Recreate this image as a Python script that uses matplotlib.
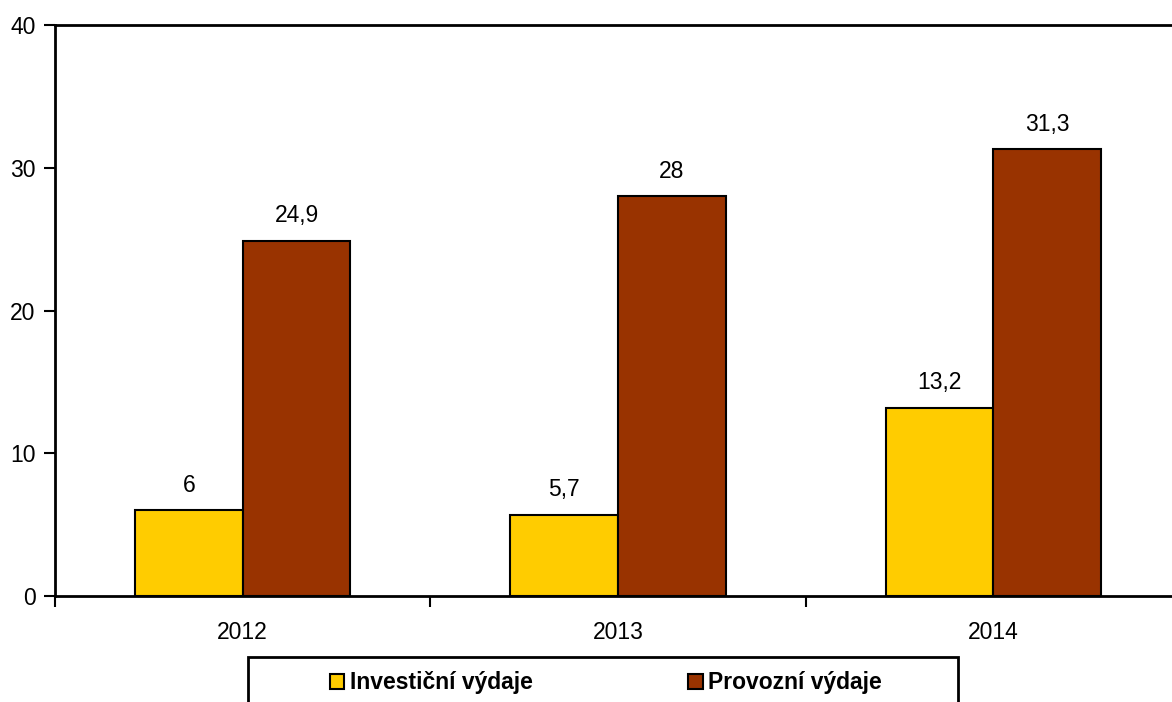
import numpy as np
import matplotlib.pyplot as plt
from matplotlib.patches import Rectangle

# Data
years = ["2012", "2013", "2014"]
investicni = [6, 5.7, 13.2]
provozni = [24.9, 28, 31.3]
series_names = ["Investiční výdaje", "Provozní výdaje"]

YELLOW = "#FFCC00"
BROWN = "#993300"

plt.rcParams['font.family'] = ['Liberation Sans', 'DejaVu Sans']

fig = plt.figure(figsize=(11.72, 7.02), dpi=100)
ax = fig.add_axes([55 / 1172, 106 / 702, 1126 / 1172, 571 / 702])

x = np.arange(len(years))
width = 0.287

bars1 = ax.bar(x - width / 2, investicni, width, color=YELLOW,
               edgecolor="black", linewidth=1.5, label=series_names[0])
bars2 = ax.bar(x + width / 2, provozni, width, color=BROWN,
               edgecolor="black", linewidth=1.5, label=series_names[1])


def fmt(v):
    """Czech style decimal comma"""
    s = f"{v:g}"
    return s.replace(".", ",")


for bars, vals in ((bars1, investicni), (bars2, provozni)):
    for b, v in zip(bars, vals):
        ax.annotate(fmt(v), (b.get_x() + b.get_width() / 2, v),
                    xytext=(0, 9.5), textcoords="offset points",
                    ha="center", va="bottom", fontsize=16.5)

ax.set_xlim(-0.5, len(years) - 0.5)
ax.set_ylim(0, 40)
ax.set_yticks([0, 10, 20, 30, 40])
ax.set_xticks(x)
ax.set_xticklabels(years)
ax.set_xticks(np.arange(-0.5, len(years)), minor=True)
ax.tick_params(axis="x", which="major", length=0, pad=18, labelsize=16.5)
ax.tick_params(axis="x", which="minor", length=8, width=1.5, direction="out")
ax.tick_params(axis="y", length=8, width=1.5, direction="out", pad=6,
               labelsize=16.5)

for side in ("left", "bottom", "top"):
    ax.spines[side].set_linewidth(2)
ax.spines["right"].set_visible(False)

# Legend box, cut off at the bottom edge like the original
fig.patches.append(Rectangle((248 / 1172, -0.05), 710 / 1172,
                             0.05 + 45 / 702, transform=fig.transFigure,
                             facecolor="white", edgecolor="black",
                             linewidth=2))
fig.legend(handles=[bars1, bars2], labels=series_names, loc="center",
           bbox_to_anchor=(606 / 1172, 1 - 683 / 702), ncol=2,
           frameon=False, prop={"weight": "bold", "size": 16.5},
           handlelength=0.62, handleheight=0.62, handletextpad=0.25,
           columnspacing=6.8)

fig.savefig("out.png", dpi=100)
